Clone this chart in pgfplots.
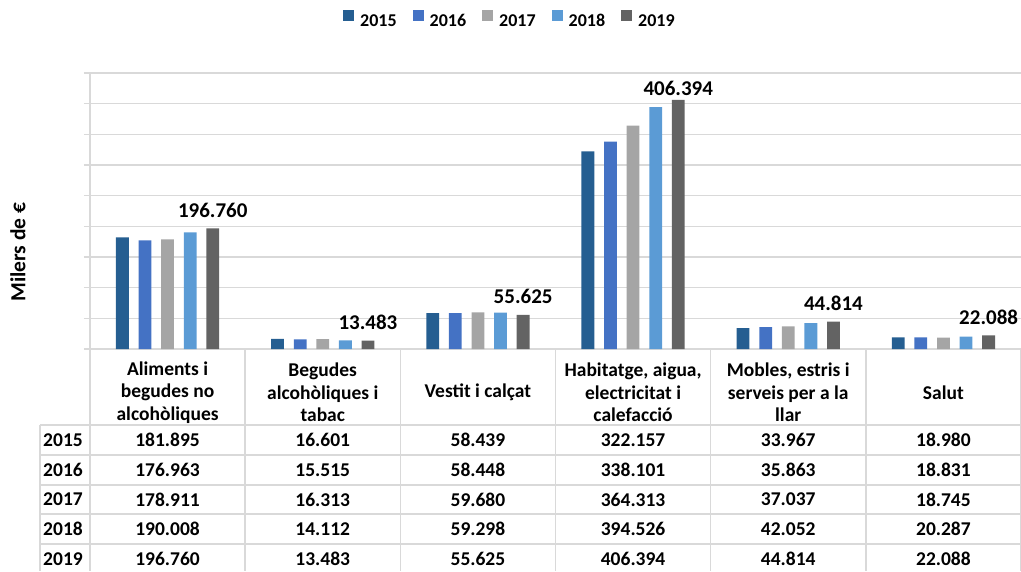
\documentclass[border=0pt]{standalone}
\usepackage{pgfplots}
\pgfplotsset{compat=1.18}
\usepackage{pgfplotstable}
\usepackage{fontspec}
\setmainfont{Carlito}

\definecolor{cA}{HTML}{255E91}
\definecolor{cB}{HTML}{4472C4}
\definecolor{cC}{HTML}{A5A5A5}
\definecolor{cD}{HTML}{5B9BD5}
\definecolor{cE}{HTML}{636363}
\definecolor{gridgray}{HTML}{D9D9D9}

\pgfplotstableread{
x a b c d e
0 181.895 176.963 178.911 190.008 196.760
1 16.601 15.515 16.313 14.112 13.483
2 58.439 58.448 59.680 59.298 55.625
3 322.157 338.101 364.313 394.526 406.394
4 33.967 35.863 37.037 42.052 44.814
5 18.980 18.831 18.745 20.287 22.088
}\datatable

\pgfplotsset{legsq/.style={legend image code/.code={\fill[##1,draw=none] (0pt,0pt) rectangle (11pt,11pt);}}}

\begin{document}
\begin{tikzpicture}
\path[use as bounding box] (0pt,0pt) rectangle (1021pt,-571pt);
% table grid
\begin{scope}[gridgray, line width=1.5pt]
  \draw (40pt,-425pt) -- (1021pt,-425pt);
  \foreach \yy in {455,485,514,544} \draw (40pt,-\yy pt) -- (1021pt,-\yy pt);
  \draw (40pt,-425pt) -- (40pt,-571pt);
  \foreach \k in {0,...,5} \draw ({(90+155.17*\k)*1pt},-349pt) -- ({(90+155.17*\k)*1pt},-571pt);
  \draw (1020.3pt,-349pt) -- (1020.3pt,-571pt);
\end{scope}
\begin{axis}[
  at={(90pt,-349pt)}, anchor=south west,
  scale only axis, width=931pt, height=276pt,
  xmin=-0.5, xmax=5.5, ymin=0, ymax=450,
  enlargelimits=false, clip=false,
  ybar=9.8pt, bar width=12.8pt,
  axis x line*=bottom, axis y line*=left,
  x axis line style={draw=none},
  y axis line style={-, draw=gridgray, line width=1.5pt},
  ytick={0,50,...,450}, yticklabels={,,,,,,,,,},
  ymajorgrids, grid style={gridgray, line width=1.5pt},
  tick align=outside, major tick length=6pt,
  ytick style={gridgray, line width=1.5pt},
  xtick={0,...,5}, xtick style={draw=none},
  xticklabels={{Aliments i\\begudes no\\alcohòliques},{Begudes\\alcohòliques i\\tabac},{Vestit i calçat},{Habitatge, aigua,\\electricitat i\\calefacció},{Mobles, estris  i\\serveis per a la\\llar},{Salut}},
  xticklabel style={anchor=center, yshift=-37.5pt, align=center, font=\fontsize{19.5}{22.5}\selectfont\bfseries, inner sep=0pt},
  ylabel={Milers de €},
  ylabel style={at={(axis description cs:-0.0773,0.351)}, anchor=center, font=\fontsize{21.5}{24}\selectfont\bfseries},
  legend columns=5,
  legend style={at={(axis description cs:0.451,1.192)}, anchor=center, draw=none, fill=none,
    font=\fontsize{18}{21}\selectfont\bfseries,
    /tikz/every odd column/.append style={column sep=4pt},
    /tikz/every even column/.append style={column sep=14pt}},
]
\addplot[fill=cA, draw=none, legsq] table[x=x,y=a] {\datatable};
\addlegendentry{2015}
\addplot[fill=cB, draw=none, legsq] table[x=x,y=b] {\datatable};
\addlegendentry{2016}
\addplot[fill=cC, draw=none, legsq] table[x=x,y=c] {\datatable};
\addlegendentry{2017}
\addplot[fill=cD, draw=none, legsq] table[x=x,y=d] {\datatable};
\addlegendentry{2018}
\addplot[fill=cE, draw=none, legsq,
  point meta=explicit symbolic,
  visualization depends on={rawy \as \rawy},
  nodes near coords,
  every node near coord/.append style={font=\fontsize{21}{24}\selectfont\bfseries, anchor=base, inner sep=0pt, text=black, yshift={\rawy>400 ? 4 : 11}}
] table[x=x,y=e,meta=e] {\datatable};
\addlegendentry{2019}
\end{axis}
% table text
\foreach \r in {0,...,5} {
  \foreach \col [count=\c from 0] in {a,b,c,d,e} {
    \pgfplotstablegetelem{\r}{\col}\of\datatable
    \node[font=\fontsize{19.5}{22}\selectfont\bfseries, inner sep=0pt] at ({(90+155.17*(\r+0.5))*1pt},{-(440+29.75*\c)*1pt}) {\pgfplotsretval};
  }
}
\foreach \yr [count=\c from 0] in {2015,2016,2017,2018,2019} {
  \node[font=\fontsize{19.5}{22}\selectfont\bfseries, inner sep=0pt] at (63pt,{-(440+29.75*\c)*1pt}) {\yr};
}
\end{tikzpicture}
\end{document}
